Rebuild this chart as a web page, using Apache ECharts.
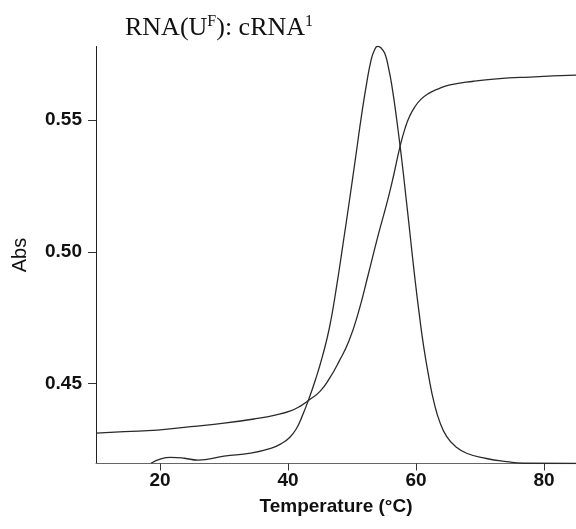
<!DOCTYPE html>
<html>
<head>
<meta charset="utf-8">
<script src="https://cdn.jsdelivr.net/npm/echarts@6/dist/echarts.min.js"></script>
<style>
html,body{margin:0;padding:0;background:#fff;}
#chart{width:576px;height:529px;}
</style>
</head>
<body>
<div id="chart"></div>
<script>
// Melting (sigmoid) curve
const meltT = [10.0, 14.4, 19.6, 24.8, 30.0, 35.2, 38.0, 40.4, 42.0, 43.3, 45.0, 46.5, 48.0, 49.5, 51.0, 52.5, 54.0, 55.5, 56.5, 57.5, 58.3, 59.0, 59.8, 60.8, 62.0, 63.3, 65.3, 69.0, 72.6, 77.8, 85.0];
const meltAbs = [0.4311, 0.4317, 0.4323, 0.4336, 0.4349, 0.4367, 0.4380, 0.4396, 0.4415, 0.4437, 0.4470, 0.4520, 0.4585, 0.4660, 0.4770, 0.4910, 0.5055, 0.5190, 0.5290, 0.5400, 0.5470, 0.5515, 0.5550, 0.5580, 0.5602, 0.5617, 0.5634, 0.5648, 0.5657, 0.5664, 0.5671];
// Derivative (peak) curve
const derivT = [18.6, 21.7, 23.8, 25.9, 30.0, 34.2, 37.3, 39.0, 40.3, 41.3, 42.2, 43.2, 44.3, 45.4, 46.5, 47.6, 48.6, 49.6, 50.6, 51.5, 52.3, 53.0, 53.5, 54.0, 54.5, 55.1, 55.7, 56.3, 57.0, 57.7, 58.4, 59.1, 59.8, 60.5, 61.2, 62.0, 62.8, 63.7, 64.8, 66.2, 68.0, 71.0, 74.2, 76.7, 85.0];
const derivAbs = [0.4197, 0.4219, 0.4216, 0.4209, 0.4224, 0.4235, 0.4253, 0.4272, 0.4296, 0.4328, 0.4375, 0.4437, 0.4515, 0.4605, 0.4715, 0.4870, 0.5030, 0.5195, 0.5365, 0.5520, 0.5642, 0.5730, 0.5766, 0.5781, 0.5775, 0.5755, 0.5700, 0.5620, 0.5500, 0.5365, 0.5215, 0.5060, 0.4905, 0.4765, 0.4640, 0.4525, 0.4430, 0.4355, 0.4298, 0.4260, 0.4234, 0.4215, 0.4203, 0.4197, 0.4196];
const xTicks = [20, 40, 60, 80];
const yTicks = [0.45, 0.50, 0.55];

const chart = echarts.init(document.getElementById('chart'), null, {renderer: 'canvas'});
const zip = (a, b) => a.map((v, i) => [v, b[i]]);
const lineStyle = {color: '#2a2a2a', width: 1.3};
chart.setOption({
  animation: false,
  backgroundColor: '#fff',
  title: {
    text: '{m|RNA(U}{s|F}{m|): cRNA}{s|1}',
    left: 125, top: 14, padding: 0,
    textStyle: {
      fontWeight: 'normal',
      rich: {
        m: {fontFamily: 'Liberation Serif', fontWeight: 'normal', fontSize: 26, color: '#111', lineHeight: 28},
        s: {fontFamily: 'Liberation Serif', fontWeight: 'normal', fontSize: 16, color: '#111', verticalAlign: 'top', lineHeight: 18}
      }
    }
  },
  grid: {left: 96, right: 0, top: 46.5, bottom: 65.5, containLabel: false},
  xAxis: {
    type: 'value', min: 10, max: 85,
    name: 'Temperature (°C)', nameLocation: 'middle', nameGap: 34,
    nameTextStyle: {fontFamily: 'Liberation Sans', fontWeight: 'bold', fontSize: 19, color: '#111'},
    axisLine: {show: true, lineStyle: {color: '#666', width: 1}},
    axisTick: {show: true, inside: false, length: 7, customValues: xTicks, lineStyle: {color: '#333'}},
    axisLabel: {customValues: xTicks, margin: 8, fontFamily: 'Liberation Sans', fontWeight: 'bold', fontSize: 19, color: '#111'},
    splitLine: {show: false}
  },
  yAxis: {
    type: 'value', min: 0.4196, max: 0.578,
    name: 'Abs', nameLocation: 'middle', nameGap: 66, nameRotate: 90,
    nameTextStyle: {fontFamily: 'Liberation Sans', fontSize: 20, color: '#111'},
    axisLine: {show: true, lineStyle: {color: '#222', width: 1}},
    axisTick: {show: true, inside: false, length: 8, customValues: yTicks, lineStyle: {color: '#333'}},
    axisLabel: {customValues: yTicks, margin: 14, fontFamily: 'Liberation Sans', fontWeight: 'bold', fontSize: 19, color: '#111',
      formatter: v => v.toFixed(2)},
    splitLine: {show: false}
  },
  series: [
    {type: 'line', data: zip(meltT, meltAbs), showSymbol: false, smooth: 0.5, lineStyle: lineStyle, clip: true},
    {type: 'line', data: zip(derivT, derivAbs), showSymbol: false, smooth: 0.5, lineStyle: lineStyle, clip: true}
  ]
});
</script>
</body>
</html>
